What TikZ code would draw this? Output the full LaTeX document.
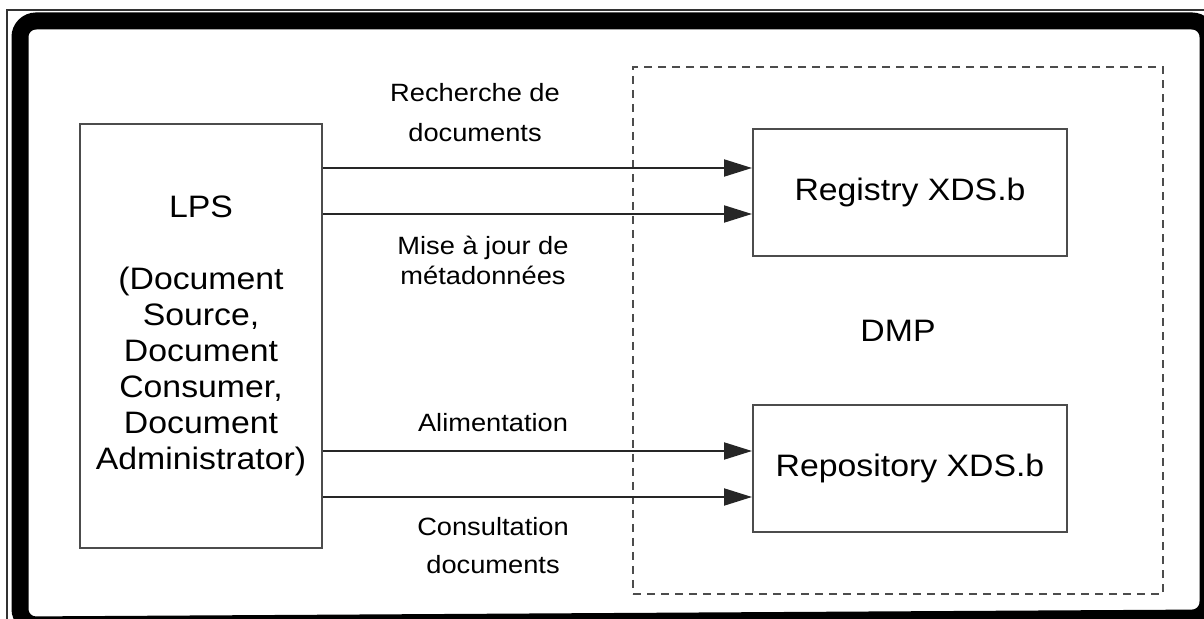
\documentclass[tikz,border=0pt]{standalone}
\usepackage{fontspec}
\setmainfont[FakeStretch=1.09]{Liberation Sans}
\usetikzlibrary{arrows.meta}

\begin{document}
\begin{tikzpicture}[x=0.5pt, y=-0.5pt,
    bloc/.style={draw=black!70, line width=1pt, fill=white, align=center,
        font=\fontsize{15.5}{18}\selectfont},
    flux/.style={-{Triangle[length=14pt,width=8.5pt]}, line width=1pt, draw=black!85},
    etiq/.style={align=center, inner sep=0pt}]

    \useasboundingbox (0,0) rectangle (1204,619);
    \clip (0,0) rectangle (1204,619);

    %cadre
    \draw[black!80, line width=0.8pt] (7,619) -- (7,10) -- (1204,10);
    \draw[black, line width=8.5pt, rounded corners=8pt] (20,625) -- (20,21) -- (1208,21) -- (1208,618) -- cycle;

    %DMP
    \node[draw=black!70, dashed, dash pattern=on 4pt off 3pt, line width=1pt,
        minimum width=265pt, minimum height=263.5pt,
        font=\fontsize{15.5}{18}\selectfont] (dmp) at (898,330.5) {DMP};

    %blocs
    \node[bloc, minimum width=121pt, minimum height=212pt] (lps) at (201,336)
        {LPS\\[18pt](Document\\Source,\\Document\\Consumer,\\Document\\Administrator)};
    \node[bloc, minimum width=157pt, minimum height=63.5pt] (reg) at (910,192.5) {Registry XDS.b};
    \node[bloc, minimum width=157pt, minimum height=63.5pt] (repo) at (910,468.5) {Repository XDS.b};

    %fleches
    \draw[flux] (lps.east |- 0,168) -- (reg.west |- 0,168);
    \draw[flux] (lps.east |- 0,214) -- (reg.west |- 0,214);
    \draw[flux] (lps.east |- 0,451) -- (repo.west |- 0,451);
    \draw[flux] (lps.east |- 0,497) -- (repo.west |- 0,497);

    %etiquettes
    \node[etiq, font=\fontsize{12.5}{20}\selectfont] (rech) at (475,113) {Recherche de\\documents};
    \node[etiq, font=\fontsize{12.5}{15}\selectfont] (maj) at (483,260) {Mise à jour de\\métadonnées};
    \node[etiq, font=\fontsize{12.5}{15}\selectfont] (alim) at (493,423) {Alimentation};
    \node[etiq, font=\fontsize{12.5}{19}\selectfont] (cons) at (493,546) {Consultation\\documents};

\end{tikzpicture}
\end{document}
